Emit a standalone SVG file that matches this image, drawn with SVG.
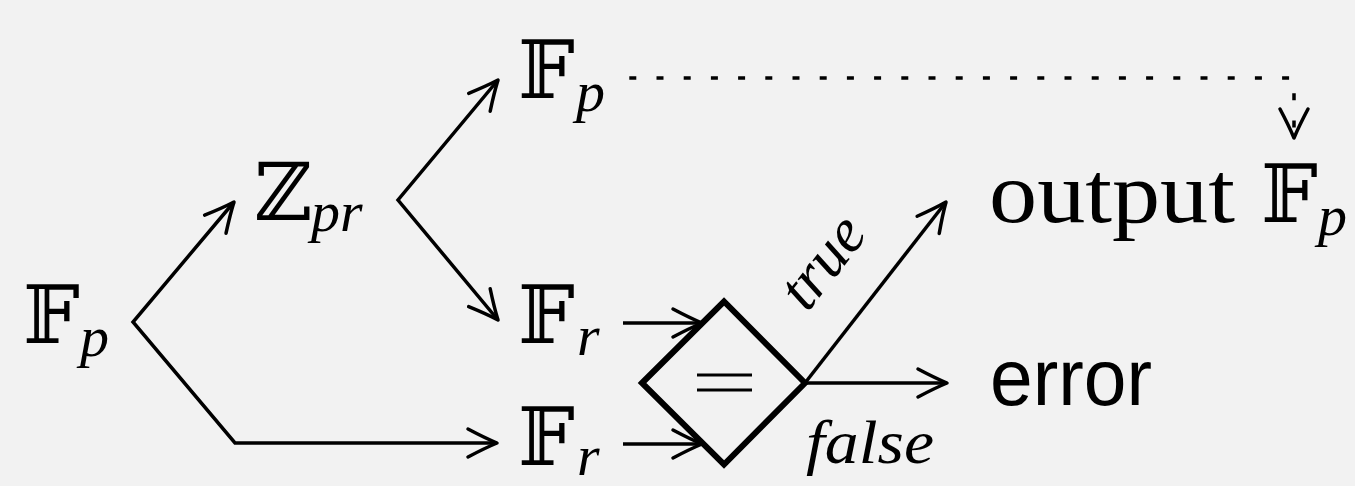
<svg xmlns="http://www.w3.org/2000/svg" width="1355" height="486" viewBox="0 0 1355 486">
<defs>
<style>
.bb{font-family:"DejaVu Serif","DejaVu Sans",serif;font-size:80px;fill:#000}
.sub{font-family:"Liberation Serif",serif;font-style:italic;font-size:58px;fill:#000}
.rm{font-family:"Liberation Serif",serif;font-size:86px;fill:#000}
.it{font-family:"Liberation Serif",serif;font-style:italic;font-size:62px;fill:#000}
.sf{font-family:"Liberation Sans",sans-serif;font-size:80px;fill:#000}
.ln{fill:none;stroke:#000;stroke-width:3.5}
</style>
<marker id="arr" markerUnits="userSpaceOnUse" viewBox="-34 -18 38 36" refX="0" refY="0" markerWidth="38" markerHeight="36" orient="auto-start-reverse">
<path d="M-29,-14 Q-12,-5 0,0 Q-12,5 -29,14" fill="none" stroke="#000" stroke-width="3.5" stroke-linecap="round" stroke-linejoin="round"/>
</marker>
</defs>
<rect width="1355" height="486" fill="#f2f2f2"/>
<g id="connectors">
<path class="ln" d="M234,202 L133,322 L235,443 H497" marker-start="url(#arr)" marker-end="url(#arr)"/>
<path class="ln" d="M498,80 L398,200 L498,320" marker-start="url(#arr)" marker-end="url(#arr)"/>
<path class="ln" d="M623,323 H702" marker-end="url(#arr)"/>
<path class="ln" d="M623,444 H702" marker-end="url(#arr)"/>
<path class="ln" d="M805,383 L946,202" marker-end="url(#arr)"/>
<path class="ln" d="M805,383 H947" marker-end="url(#arr)"/>
<path class="ln" d="M629.3,78 H1294 V138" stroke-dasharray="7 20.2" marker-end="url(#arr)"/>
<text class="it" transform="translate(838,274) rotate(-52)" text-anchor="middle">true</text>
<text class="it" x="806" y="463" textLength="128" lengthAdjust="spacingAndGlyphs">false</text>
</g>
<g id="n-fp-left">
<text class="bb" x="23" y="343">𝔽</text><text class="sub" x="80" y="356">p</text>
</g>
<g id="n-zpr">
<text class="bb" x="254" y="220">ℤ</text><text class="sub" x="311" y="231">pr</text>
</g>
<g id="n-fp-top">
<text class="bb" x="518" y="98">𝔽</text><text class="sub" x="576" y="111">p</text>
</g>
<g id="n-fr-top">
<text class="bb" x="518" y="343">𝔽</text><text class="sub" x="577" y="355">r</text>
</g>
<g id="n-fr-bottom">
<text class="bb" x="518" y="465">𝔽</text><text class="sub" x="577" y="475">r</text>
</g>
<g id="n-eq">
<path d="M642,383 L724,301.5 L805,383 L724,464.5 Z" fill="none" stroke="#000" stroke-width="6" stroke-linejoin="miter"/>
<path d="M697,375 H752 M697,390 H752" stroke="#000" stroke-width="3"/>
</g>
<g id="n-output">
<text class="rm" x="989" y="222" textLength="246" lengthAdjust="spacingAndGlyphs">output</text>
<text class="bb" x="1261" y="222">𝔽</text><text class="sub" x="1318" y="235">p</text>
</g>
<g id="n-error">
<text class="sf" x="990" y="405" textLength="162" lengthAdjust="spacingAndGlyphs">error</text>
</g>
</svg>
